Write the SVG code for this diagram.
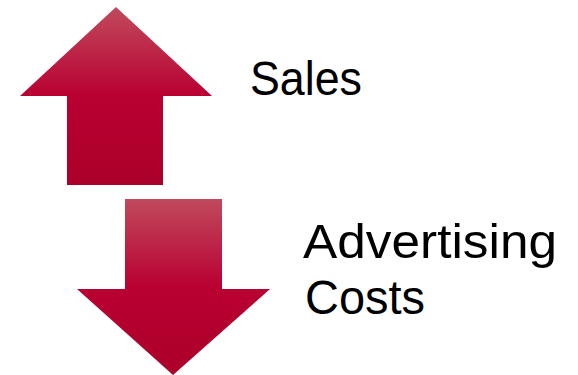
<svg xmlns="http://www.w3.org/2000/svg" width="578" height="375" viewBox="0 0 578 375">
<style>
.lbl{font-family:"Liberation Sans","Open Sans",Arial,sans-serif;font-size:49px;fill:#000}
</style>
<defs>
<linearGradient id="g" x1="0" y1="0" x2="0" y2="1">
<stop offset="0" stop-color="#c04a5c"/>
<stop offset="0.5" stop-color="#b90032"/>
<stop offset="1" stop-color="#ab0029"/>
</linearGradient>
</defs>
<rect width="578" height="375" fill="#fff"/>
<g id="up-arrow">
<polygon points="116,7 212,96 163,96 163,185 67,185 67,96 20,96" fill="url(#g)"/>
</g>
<g id="down-arrow">
<polygon points="125,199 222,199 222,289 270,289 173,375 77,289 125,289" fill="url(#g)"/>
</g>
<g id="sales">
<text class="lbl" x="250" y="95" textLength="112" lengthAdjust="spacingAndGlyphs">Sales</text>
</g>
<g id="advertising-costs">
<text class="lbl" x="303" y="258" textLength="254" lengthAdjust="spacingAndGlyphs">Advertising</text>
<text class="lbl" x="305" y="314" textLength="120" lengthAdjust="spacingAndGlyphs">Costs</text>
</g>
</svg>
